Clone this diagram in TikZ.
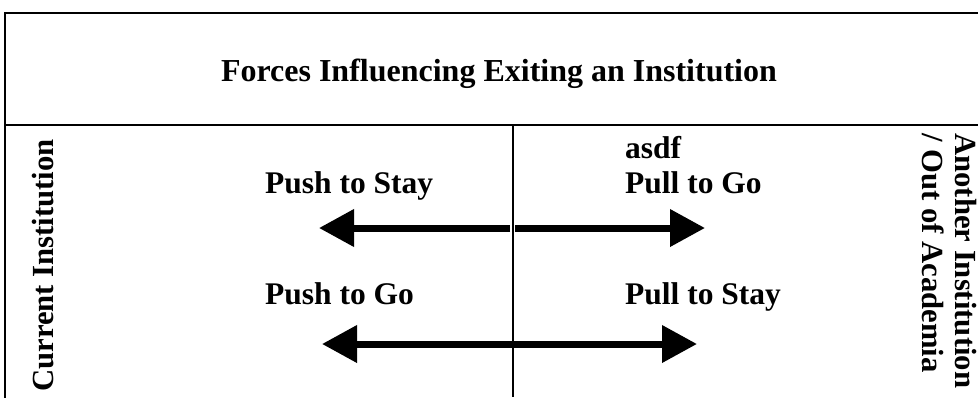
\documentclass[tikz,border=0pt]{standalone}
\usepackage{fontspec}
\setmainfont{Liberation Serif}
\usetikzlibrary{arrows.meta}
\tikzset{
  frame/.style={line width=2pt, line cap=rect},
  divider/.style={line width=1.8pt},
  force/.style={line width=7pt, -{Triangle[length=35pt,width=36pt]}},
  bothforce/.style={line width=7pt, {Triangle[length=35pt,width=36pt]}-{Triangle[length=35pt,width=36pt]}},
  lab/.style={inner sep=0pt, anchor=base west, font=\fontsize{31.5}{35}\selectfont\bfseries},
  side/.style={inner sep=0pt, anchor=base west, font=\fontsize{30.7}{34}\selectfont\bfseries}
}
\begin{document}
\begin{tikzpicture}[x=1pt,y=-1pt]
\useasboundingbox (0,0) rectangle (978,397);
% frame
\coordinate (tl) at (5,13);
\coordinate (tr) at (978,13);
\coordinate (bl) at (5,397);
\coordinate (ml) at (5,125);
\coordinate (mr) at (978,125);
\coordinate (ct) at (513,125);
\coordinate (cb) at (513,397);
\draw[frame] (bl) -- (tl) -- (tr);
\draw[frame] (ml) -- (mr);
\draw[divider] (ct) -- (cb);
% title
\node[inner sep=0pt, anchor=base, font=\fontsize{32}{35}\selectfont\bfseries] (title) at (499,81) {Forces Influencing Exiting an Institution};
% labels
\node[lab] (pts) at (265,193) {Push to Stay};
\node[lab] (ptg) at (265,304) {Push to Go};
\node[lab] (asdf) at (625,158) {asdf};
\node[lab] (plg) at (625,193) {Pull to Go};
\node[lab] (pls) at (625,304) {Pull to Stay};
% side texts
\node[side, rotate=90] (cur) at (53,392) {Current Institution};
\node[side, rotate=-90] (ano) at (955,133) {Another Institution};
\node[side, rotate=-90] (out) at (922,133) {/ Out of Academia};
% arrows
\coordinate (a1s) at (510,228);
\coordinate (a1e) at (319,228);
\coordinate (a2s) at (515,228);
\coordinate (a2e) at (705,228);
\coordinate (b1) at (322,344);
\coordinate (b2) at (697,344);
\draw[force] (a1s) -- (a1e);
\draw[force] (a2s) -- (a2e);
\draw[bothforce] (b1) -- (b2);
\end{tikzpicture}
\end{document}
